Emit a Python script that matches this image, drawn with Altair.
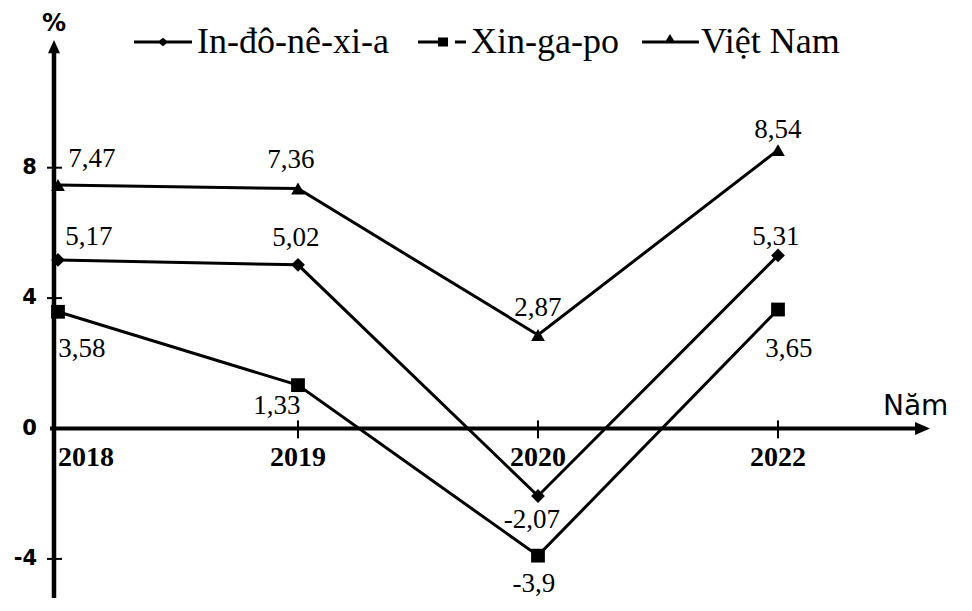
import altair as alt
import pandas as pd

# ---------------- data ----------------
years = ["2018", "2019", "2020", "2022"]
series = ["In-đô-nê-xi-a", "Xin-ga-po", "Việt Nam"]
indonesia = [5.17, 5.02, -2.07, 5.31]
singapore = [3.58, 1.33, -3.9, 3.65]
vietnam = [7.47, 7.36, 2.87, 8.54]
y_tick_values = [8, 4, 0, -4]

# label placement (pixel offsets from each point: dx, dy to text baseline)
label_offsets = {
    "In-đô-nê-xi-a": [(31, -15), (-2, -19), (-6, 32), (-2, -10)],
    "Xin-ga-po": [(24, 45), (-21, 29), (-4, 36), (11, 47)],
    "Việt Nam": [(34, -18), (-7, -21), (0, -19), (0, -12)],
}

SERIF = "Liberation Serif, Times New Roman, serif"

# ---------------- scales ----------------
W, H = 950, 590
X_DOM = [-0.20833, 3.75]
Y_DOM = [-5.199, 12.8988]
xs = alt.Scale(domain=X_DOM, nice=False, zero=False)
ys = alt.Scale(domain=Y_DOM, nice=False, zero=False)
PX_X = W / (X_DOM[1] - X_DOM[0])   # pixels per x unit
PX_Y = H / (Y_DOM[1] - Y_DOM[0])   # pixels per y unit

values = {"In-đô-nê-xi-a": indonesia, "Xin-ga-po": singapore, "Việt Nam": vietnam}
rows = []
for s in series:
    for i, (yr, v) in enumerate(zip(years, values[s])):
        dx, dy = label_offsets[s][i]
        rows.append({"series": s, "year": yr, "idx": i, "value": v,
                     "label": f"{v:g}".replace(".", ","),
                     "lx": i + dx / PX_X, "ly": v - dy / PX_Y})
df = pd.DataFrame(rows)
years_df = pd.DataFrame({"year": years, "idx": list(range(len(years)))})
yt_df = pd.DataFrame({"v": y_tick_values})
one = pd.DataFrame({"k": [0]})


def xd(v):
    return alt.X(datum=v, type="quantitative", scale=xs, axis=None)


def yd(v):
    return alt.Y(datum=v, type="quantitative", scale=ys, axis=None)


X = alt.X("idx:Q", scale=xs, axis=None)
Y = alt.Y("value:Q", scale=ys, axis=None)

AX_X = -0.0167  # y axis position (in index units)

# ---------------- axes (drawn) ----------------
y_axis = alt.Chart(one).mark_rule(color="black", strokeWidth=4.5).encode(
    x=xd(AX_X), y=yd(-5.2), y2=alt.Y2(datum=11.6))
y_arrow = alt.Chart(one).mark_point(
    shape="M0,0L-1,2.2L1,2.2Z", filled=True, size=144, color="black", opacity=1
).encode(x=xd(AX_X), y=yd(11.917))
x_axis = alt.Chart(one).mark_rule(color="black", strokeWidth=4).encode(
    y=yd(0), x=xd(-0.0333), x2=alt.X2(datum=3.59))
x_arrow = alt.Chart(one).mark_point(
    shape="M0,0L-2.3,-1L-2.3,1Z", filled=True, size=169, color="black", opacity=1
).encode(x=xd(3.6333), y=yd(0))

y_ticks = alt.Chart(yt_df).transform_filter("datum.v != 0").mark_rule(
    color="black", strokeWidth=2
).encode(y=alt.Y("v:Q", scale=ys, axis=None), x=xd(-0.0458), x2=alt.X2(datum=0.0167))
y_labels = alt.Chart(yt_df).mark_text(
    font="DejaVu Sans", fontWeight="bold", fontSize=21, align="right",
    baseline="middle", color="black"
).encode(y=alt.Y("v:Q", scale=ys, axis=None), x=xd(-0.0875), text="v:N")

x_ticks = alt.Chart(years_df).transform_filter("datum.idx > 0").mark_rule(
    color="black", strokeWidth=2
).encode(x=alt.X("idx:Q", scale=xs, axis=None), y=yd(0.25), y2=alt.Y2(datum=-0.3))
x_label_first = alt.Chart(years_df).transform_filter("datum.idx == 0").mark_text(
    font=SERIF, fontWeight="bold", fontSize=28, align="left",
    baseline="alphabetic", color="black"
).encode(x=alt.X("idx:Q", scale=xs, axis=None), y=yd(-1.15), text="year:N")
x_label_rest = alt.Chart(years_df).transform_filter("datum.idx > 0").mark_text(
    font=SERIF, fontWeight="bold", fontSize=28, align="center",
    baseline="alphabetic", color="black"
).encode(x=alt.X("idx:Q", scale=xs, axis=None), y=yd(-1.15), text="year:N")

pct = alt.Chart(one).mark_text(
    text="%", font="DejaVu Sans", fontWeight="bold", fontSize=24,
    align="center", baseline="alphabetic", color="black"
).encode(x=xd(AX_X), y=yd(12.19))
nam = alt.Chart(one).mark_text(
    text="Năm", font="DejaVu Sans", fontSize=28, align="left",
    baseline="alphabetic", color="black"
).encode(x=xd(3.4375), y=yd(0.414))

# ---------------- data marks ----------------
lines = alt.Chart(df).mark_line(color="black", strokeWidth=3).encode(
    x=X, y=Y, detail="series:N", order="idx:Q")
points = alt.Chart(df).mark_point(filled=True, color="black", size=190, opacity=1).encode(
    x=X, y=Y,
    shape=alt.Shape("series:N", scale=alt.Scale(domain=series,
                    range=["diamond", "square", "triangle-up"]), legend=None))
labels = alt.Chart(df).mark_text(
    font=SERIF, fontSize=27, align="center", baseline="alphabetic",
    color="black"
).encode(x=alt.X("lx:Q", scale=xs, axis=None),
         y=alt.Y("ly:Q", scale=ys, axis=None), text="label:N")

# ---------------- legend (line-marker-line symbols, filled paths) ----------------
legend_paths = [
    "M-1,-0.052H1V0.052H-1ZM-0.19,0L0,-0.15L0.19,0L0,0.15Z",
    "M-0.655,-0.052H0.04V0.052H-0.655ZM0.034,-0.155H0.38V0.155H0.034Z"
    "M0.62,-0.052H1V0.052H0.62Z",
    "M-0.86,-0.052H1.1V0.052H-0.86ZM-0.07,0L0.103,-0.28L0.273,0Z",
]
legend_layer = alt.Chart(df).mark_point(
    filled=True, color="black", size=3364, opacity=0
).encode(
    x=X, y=Y,
    shape=alt.Shape("series:N", scale=alt.Scale(domain=series, range=legend_paths),
                    legend=alt.Legend(
                        title=None, orient="none", legendX=126, legendY=5,
                        direction="horizontal", symbolSize=3364,
                        symbolFillColor="black", symbolStrokeWidth=0,
                        symbolOpacity=1,
                        labelFont=SERIF, labelFontSize=36,
                        labelColor="black", labelOffset=5, labelLimit=400,
                        columnPadding=19, padding=0)))

chart = alt.layer(
    y_axis, y_arrow, x_axis, x_arrow, y_ticks, y_labels, x_ticks,
    x_label_first, x_label_rest, pct, nam, lines, points, labels, legend_layer
).resolve_scale(shape="independent").properties(
    width=W, height=H, padding=0,
    autosize=alt.AutoSizeParams(type="none"), background="white"
).configure_view(stroke=None)

chart.save("out.html", embed_options={"renderer": "svg", "actions": False})
